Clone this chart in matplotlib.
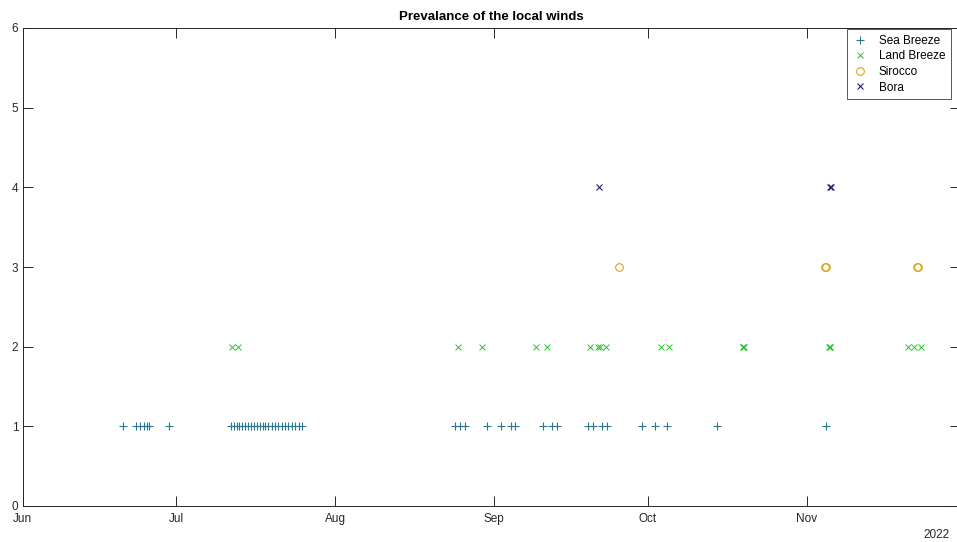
import numpy as np
import pandas as pd
import matplotlib
matplotlib.use('Agg')
import matplotlib.pyplot as plt
import matplotlib.dates as mdates

plt.rcParams['font.family'] = ['Liberation Sans', 'DejaVu Sans']

# days since 1 Jun 2022 at which each wind was observed
start = pd.Timestamp('2022-06-01')
seaDays = [19.7, 22.1, 22.9, 23.8, 24.2, 24.7, 28.6,
           40.6, 41.3, 41.8, 42.3, 42.8, 43.4, 44.0, 44.5, 45.2, 45.7, 46.3, 46.9,
           47.3, 47.9, 48.6, 49.2, 49.9, 50.6, 51.2, 51.9, 52.5, 53.2, 53.9, 54.5,
           84.4, 85.4, 86.3, 90.6, 93.4, 95.3, 96.1, 101.6, 103.3, 104.2,
           110.4, 111.4, 113.0, 114.0, 120.8, 123.4, 125.7, 135.6, 156.7]
landDays = [40.9, 42.05,
            85.0, 89.6, 100.2, 102.3, 110.7, 112.2, 112.6, 113.85,
            124.5, 126.2, 140.5, 140.6, 140.7, 157.4, 157.5, 157.6,
            172.8, 174.0, 175.3]
siroccoDays = [116.45, 156.5, 156.7, 174.5, 174.7]
boraDays = [112.5, 157.6, 157.7]

seaLevel, landLevel, siroccoLevel, boraLevel = 1, 2, 3, 4
labels = ['Sea Breeze', 'Land Breeze', 'Sirocco', 'Bora']
monthTicks = ['2022-06-01', '2022-07-01', '2022-08-01', '2022-09-01', '2022-10-01', '2022-11-01']
title = 'Prevalance of the local winds'

def toDates(days):
	return [start + pd.Timedelta(days=d) for d in days]

fig = plt.figure(figsize=(9.57, 5.42), dpi=100)
ax = fig.add_axes([22.5/957, 36/542, (960.4-22.5)/957, 478/542])

ax.plot(toDates(seaDays), [seaLevel]*len(seaDays), '+', color='#2a7890', ms=6, mew=0.8, ls='none', label=labels[0])
ax.plot(toDates(landDays), [landLevel]*len(landDays), 'x', color='#2fc22f', ms=4.5, mew=0.7, ls='none', label=labels[1])
ax.plot(toDates(siroccoDays), [siroccoLevel]*len(siroccoDays), 'o', color='#d9a521', mfc='none', ms=5.5, mew=0.8, ls='none', label=labels[2])
ax.plot(toDates(boraDays), [boraLevel]*len(boraDays), 'x', color='#22227a', ms=4.5, mew=0.8, ls='none', label=labels[3])

ax.set_xlim(pd.Timestamp('2022-06-01'), pd.Timestamp('2022-12-01'))
ax.set_ylim(0, 6)
ax.set_yticks(range(0, 7))
ax.set_xticks(pd.to_datetime(monthTicks))
ax.xaxis.set_major_formatter(mdates.DateFormatter('%b'))

ax.tick_params(direction='in', length=7, width=0.7, colors='#262626', labelsize=8.5,
	top=True, right=True, pad=3)
ax.tick_params(axis='x', pad=5)
for s in ax.spines.values():
	s.set_color('#262626')
	s.set_linewidth(0.7)

ax.set_title(title, fontsize=9.5, fontweight='bold', pad=6)
fig.text(950/957, 7/542, '2022', ha='right', va='center', fontsize=8.5, color='#262626')

leg = ax.legend(loc='upper right', bbox_to_anchor=(951/957, 1 - 29/542), bbox_transform=fig.transFigure,
	fontsize=8.5, frameon=True, fancybox=False, framealpha=1, edgecolor='#555555',
	borderaxespad=0, handlelength=1.3, handletextpad=0.9, labelspacing=0.3, borderpad=0.5)
leg.get_frame().set_linewidth(0.7)

fig.savefig('out.png', dpi=100)
